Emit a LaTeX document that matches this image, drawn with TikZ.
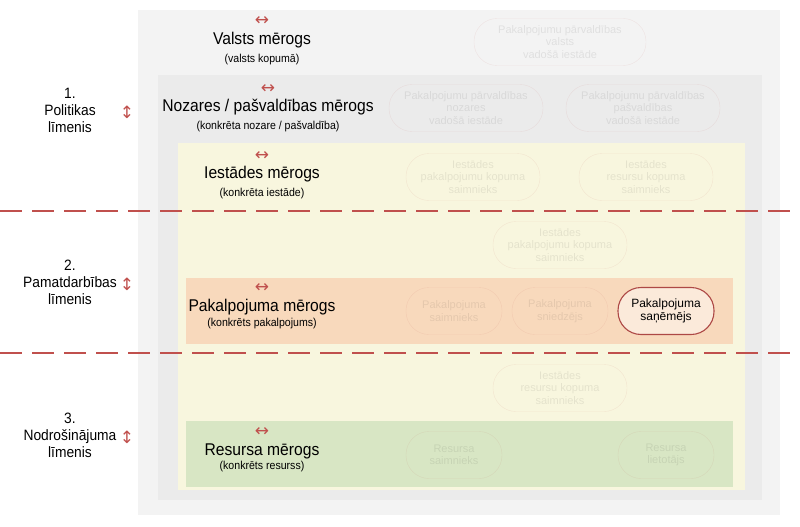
\documentclass[tikz,border=0pt]{standalone}
\usepackage{fontspec}
\setmainfont{Liberation Sans}
\newfontfamily\arrowfont{DejaVu Sans}
\usetikzlibrary{positioning}
\definecolor{dashred}{HTML}{C0504D}
\definecolor{panelA}{HTML}{F3F3F3}
\definecolor{panelB}{HTML}{EBEBEB}
\definecolor{panelC}{HTML}{F8F6DE}
\definecolor{bandP}{HTML}{F8D9BC}
\definecolor{bandR}{HTML}{D8E6C4}
\tikzset{
  title/.style={font=\fontsize{17}{19}\selectfont, xscale=0.92},
  sub/.style={font=\fontsize{11.5}{13}\selectfont, xscale=0.92},
  harrow/.style={font=\arrowfont\fontsize{17}{17}\selectfont, text=dashred},
  level/.style={align=center, font=\fontsize{15}{17}\selectfont, xscale=0.92},
  pill/.style={rounded corners=23pt, minimum height=47pt, align=center,
    font=\fontsize{11}{12.5}\selectfont},
  faint/.style={pill, draw=dashred, draw opacity=0.1, text opacity=0.08},
  role/.style={pill, draw=dashred!90!black, line width=1.1pt, fill=bandP!55, text=black,
    font=\fontsize{12}{13.5}\selectfont}
}
\begin{document}
\begin{tikzpicture}[x=1pt, y=-1pt]
  \useasboundingbox (0,0) rectangle (800,527);
  % joslas
  \fill[panelA] (138,10) rectangle (780,515);
  \fill[panelB] (158,75) rectangle (762,500);
  \fill[panelC] (178,143) rectangle (745,490);
  \fill[bandP] (186,278) rectangle (733,344);
  \fill[bandR] (186,421) rectangle (733,487);

  % mērogi
  \node[harrow] (va) at (262,21) {↔};
  \node[title] (vt) at (262,40) {Valsts mērogs};
  \node[sub] (vs) at (262,60) {(valsts kopumā)};
  \node[harrow] (na) at (268,89) {↔};
  \node[title] (nt) at (268,107) {Nozares / pašvaldības mērogs};
  \node[sub] (ns) at (268,127) {(konkrēta nozare / pašvaldība)};
  \node[harrow] (ia) at (262,156) {↔};
  \node[title] (it) at (262,174) {Iestādes mērogs};
  \node[sub] (is) at (262,194) {(konkrēta iestāde)};
  \node[harrow] (pa) at (262,288) {↔};
  \node[title] (pt) at (262,307) {Pakalpojuma mērogs};
  \node[sub] (ps) at (262,324) {(konkrēts pakalpojums)};
  \node[harrow] (ra) at (262,432) {↔};
  \node[title] (rt) at (262,451) {Resursa mērogs};
  \node[sub] (rs) at (262,467) {(konkrēts resurss)};

  % līmeņi
  \node[level] (l1) at (70,110) {1.\\Politikas\\līmenis};
  \node[harrow] (l1a) at (127,112) {↕};
  \node[level] (l2) at (70,282) {2.\\Pamatdarbības\\līmenis};
  \node[harrow] (l2a) at (127,284) {↕};
  \node[level] (l3) at (70,435) {3.\\Nodrošinājuma\\līmenis};
  \node[harrow] (l3a) at (127,437) {↕};

  % robežas
  \draw[dashred, line width=1.3pt, dash pattern=on 22pt off 10pt] (0,211) -- (800,211);
  \draw[dashred, line width=1.3pt, dash pattern=on 22pt off 10pt] (0,353) -- (800,353);

  % lomas
  \node[faint, minimum width=172pt] (vl) at (560,42) {Pakalpojumu pārvaldības\\valsts\\vadošā iestāde};
  \node[faint, minimum width=154pt] (nl) at (466,108) {Pakalpojumu pārvaldības\\nozares\\vadošā iestāde};
  \node[faint, minimum width=154pt] (pl) at (643,108) {Pakalpojumu pārvaldības\\pašvaldības\\vadošā iestāde};
  \node[faint, minimum width=134pt] (ip) at (473,177) {Iestādes\\pakalpojumu kopuma\\saimnieks};
  \node[faint, minimum width=134pt] (ir) at (646,177) {Iestādes\\resursu kopuma\\saimnieks};
  \node[faint, minimum width=134pt] (ip2) at (560,245) {Iestādes\\pakalpojumu kopuma\\saimnieks};
  \node[faint, minimum width=96pt] (ps1) at (454,311) {Pakalpojuma\\saimnieks};
  \node[faint, minimum width=96pt] (ps2) at (560,311) {Pakalpojuma\\sniedzējs};
  \node[role, minimum width=96pt] (ps3) at (666,311) {Pakalpojuma\\saņēmējs};
  \node[faint, minimum width=134pt] (ir2) at (560,388) {Iestādes\\resursu kopuma\\saimnieks};
  \node[faint, minimum width=96pt] (rs1) at (454,455) {Resursa\\saimnieks};
  \node[faint, minimum width=96pt] (rs2) at (666,455) {Resursa\\lietotājs};
\end{tikzpicture}
\end{document}
